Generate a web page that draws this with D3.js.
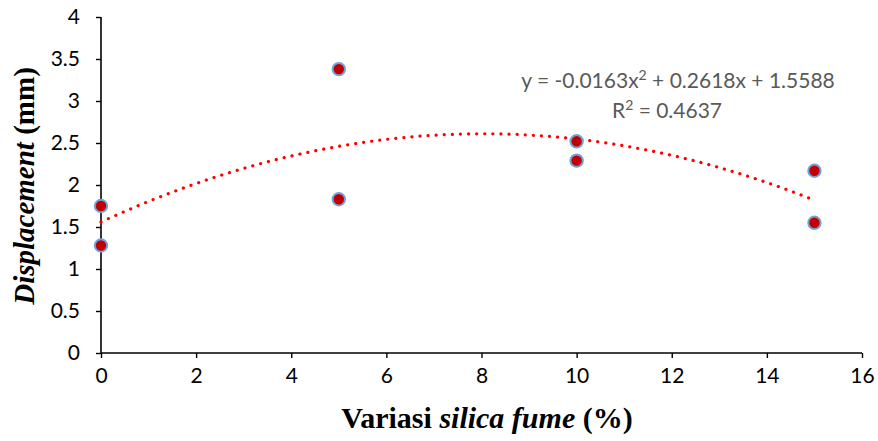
<!DOCTYPE html>
<html>
<head>
<meta charset="utf-8">
<script src="https://cdn.jsdelivr.net/npm/d3@7"></script>
<style>
  body { margin: 0; background: #fff; }
  svg { display: block; }
</style>
</head>
<body>
<svg id="chart" width="878" height="441"></svg>
<script>
// Displacement vs silica fume scatter with quadratic trendline

const silicaFume = [0, 0, 5, 5, 10, 10, 15, 15];
const displacement = [1.75, 1.28, 3.38, 1.83, 2.52, 2.29, 2.17, 1.55];

const trendCoef = [1.5588, 0.2618, -0.0163]; // c, b, a
const trendRange = [0, 15];

const xTicks = [0, 2, 4, 6, 8, 10, 12, 14, 16];
const yTicks = [0, 0.5, 1, 1.5, 2, 2.5, 3, 3.5, 4];

const svg = d3.select('#chart');

const margin = { left: 101, right: 16, top: 17, bottom: 88 };
const width = 878, height = 441;

const x = d3.scaleLinear()
    .domain([0, 16])
    .range([margin.left, width - margin.right]);

const y = d3.scaleLinear()
    .domain([0, 4])
    .range([height - margin.bottom, margin.top]);

// Axes
const xAxis = svg.append('g')
    .attr('transform', `translate(0,${y(0)})`)
    .call(d3.axisBottom(x).tickValues(xTicks).tickSize(5).tickPadding(10).tickFormat(d3.format('d')));

const yAxis = svg.append('g')
    .attr('transform', `translate(${x(0)},0)`)
    .call(d3.axisLeft(y).tickValues(yTicks).tickSize(5).tickPadding(16).tickFormat(d => d));

[xAxis, yAxis].forEach(ax => {
    ax.selectAll('path').attr('stroke', '#000').attr('stroke-width', 1.6);
    ax.selectAll('line').attr('stroke', '#000').attr('stroke-width', 1.4);
    ax.selectAll('text')
        .attr('fill', '#000')
        .style('font-family', 'Lato, "Open Sans", sans-serif')
        .style('font-size', '21px');
});
xAxis.select('path').attr('d', `M${x(0)},0H${x(16)}`);
yAxis.select('path').attr('d', `M0,${y(0)}V${y(4)}`);

// Trendline
const trendData = d3.range(trendRange[0], trendRange[1] + 0.001, 0.1)
    .map(v => ({ x: v, y: trendCoef[0] + trendCoef[1] * v + trendCoef[2] * v * v }));

svg.append('path')
    .datum(trendData)
    .attr('fill', 'none')
    .attr('stroke', '#ff0000')
    .attr('stroke-width', 3.2)
    .attr('stroke-linecap', 'round')
    .attr('stroke-dasharray', '0.1,8')
    .attr('d', d3.line().x(d => x(d.x)).y(d => y(d.y)));

// Points
svg.append('g')
    .selectAll('circle')
    .data(silicaFume.map((v, i) => ({ x: v, y: displacement[i] })))
    .join('circle')
    .attr('cx', d => x(d.x))
    .attr('cy', d => y(d.y))
    .attr('r', 6.2)
    .attr('fill', '#c00000')
    .attr('stroke', '#6fa3da')
    .attr('stroke-width', 2);

// Equation labels
const eq = svg.append('g')
    .style('font-family', 'Lato, "Open Sans", sans-serif')
    .style('font-size', '21px')
    .attr('fill', '#595959');

const eq1 = eq.append('text').attr('x', 678).attr('y', 88).attr('text-anchor', 'middle');
eq1.append('tspan').text('y = -0.0163x');
eq1.append('tspan').text('2').attr('font-size', '14px').attr('dy', -8);
eq1.append('tspan').text(' + 0.2618x + 1.5588').attr('dy', 8);

const eq2 = eq.append('text').attr('x', 667).attr('y', 118).attr('text-anchor', 'middle');
eq2.append('tspan').text('R');
eq2.append('tspan').text('2').attr('font-size', '14px').attr('dy', -8);
eq2.append('tspan').text(' = 0.4637').attr('dy', 8);

// Axis titles
const xTitle = svg.append('text')
    .attr('x', 487)
    .attr('y', 428)
    .attr('text-anchor', 'middle')
    .style('font-family', '"Liberation Serif", "Times New Roman", serif')
    .style('font-size', '30px')
    .style('font-weight', 'bold');
xTitle.append('tspan').text('Variasi ');
xTitle.append('tspan').text('silica fume').style('font-style', 'italic');
xTitle.append('tspan').text(' (%)');

const yTitle = svg.append('text')
    .attr('transform', 'translate(34,186) rotate(-90)')
    .attr('text-anchor', 'middle')
    .style('font-family', '"Liberation Serif", "Times New Roman", serif')
    .style('font-size', '29px')
    .style('font-weight', 'bold');
yTitle.append('tspan').text('Displacement').style('font-style', 'italic');
yTitle.append('tspan').text(' (mm)');
</script>
</body>
</html>
